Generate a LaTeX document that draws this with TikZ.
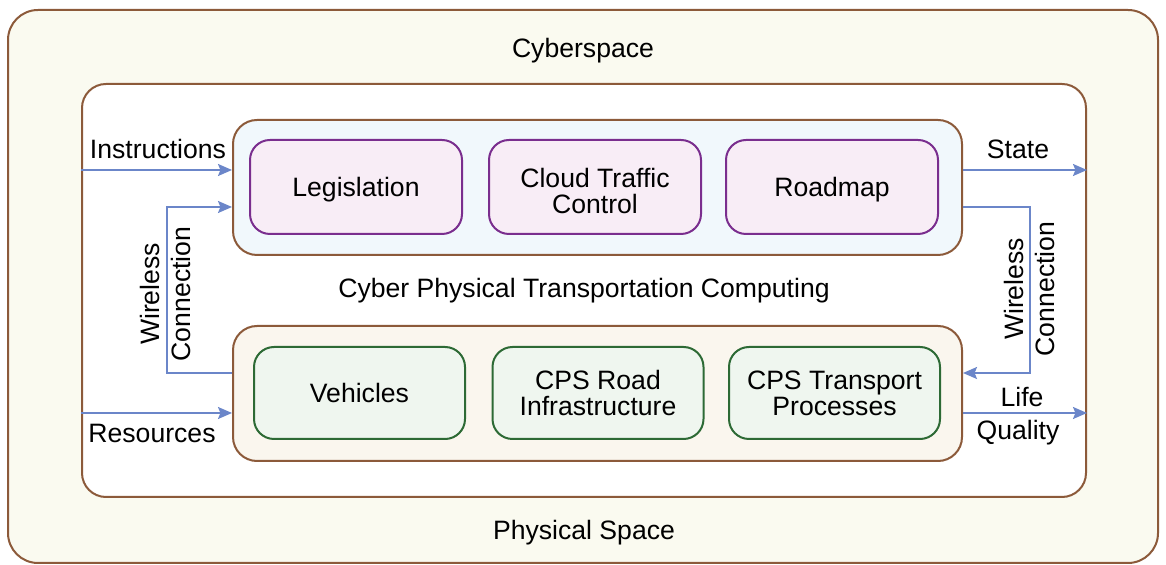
\documentclass[tikz,border=0pt]{standalone}
\usepackage{fontspec}
\setmainfont{Liberation Sans}
\usetikzlibrary{arrows.meta}
\definecolor{brownc}{HTML}{8C5A3A}
\definecolor{outerfill}{HTML}{FAFAF0}
\definecolor{topfill}{HTML}{F1F8FC}
\definecolor{botfill}{HTML}{FAF6EE}
\definecolor{purc}{HTML}{7A2E8E}
\definecolor{purfill}{HTML}{F8EDF6}
\definecolor{grc}{HTML}{2D6A35}
\definecolor{grfill}{HTML}{EFF6EF}
\definecolor{arrc}{HTML}{6B86C9}
\begin{document}
\begin{tikzpicture}[x=0.5pt,y=-0.5pt,
  every node/.style={font=\fontsize{13.3}{13}\selectfont, inner sep=0pt, text=black},
  tl/.style={text depth=0pt},
  rotlbl/.style={rotate=90, align=center, font=\fontsize{13.3}{15.5}\selectfont},
  frame/.style={draw=brownc, line width=1pt},
  purbox/.style={draw=purc, fill=purfill, line width=1pt, rounded corners=10pt, minimum width=106pt, minimum height=47pt, align=center},
  grbox/.style={draw=grc, fill=grfill, line width=1pt, rounded corners=10pt, minimum width=105.5pt, minimum height=46pt, align=center},
  arr/.style={draw=arrc, line width=0.85pt, -{Stealth[length=7pt,width=6pt,inset=1.2pt]}}
]
\useasboundingbox (0,0) rectangle (1166,565);
\node[frame, fill=outerfill, rounded corners=15pt, minimum width=575pt, minimum height=276.5pt] (outer) at (583,286.5) {};
\node[frame, fill=white, rounded corners=12pt, minimum width=502pt, minimum height=206.5pt] (inner) at (584,290.5) {};
\node[frame, fill=topfill, rounded corners=12pt, minimum width=364.5pt, minimum height=67.5pt] (top) at (597.5,187.5) {};
\node[frame, fill=botfill, rounded corners=12pt, minimum width=364.5pt, minimum height=67.5pt] (bot) at (597.5,393.5) {};

\node[purbox, tl] (leg) at (356,187) {Legislation};
\node[purbox] (ctc) at (595,187) {};
\node[align=center] (ctctext) at (595,190.5) {Cloud Traffic\\Control};
\node[purbox, tl] (road) at (832,187) {Roadmap};

\node[grbox, tl] (veh) at (359.5,393) {Vehicles};
\node[grbox] (infra) at (598,393) {CPS Road\\Infrastructure};
\node[grbox] (proc) at (834.5,393) {CPS Transport\\Processes};

\node[tl] (cyber) at (583,48) {Cyberspace};
\node[tl] (phys) at (584,530) {Physical Space};
\node[tl] (cptc) at (584,288) {Cyber Physical Transportation Computing};

\coordinate (y170) at (0,170);
\coordinate (y207) at (0,207);
\coordinate (y373) at (0,373);
\coordinate (y413) at (0,413);
\coordinate (wl) at (167,373);
\coordinate (wlt) at (167,207);
\coordinate (wr) at (1030,207);
\coordinate (wrb) at (1030,373);

\draw[arr] (inner.west |- y170) -- (top.west |- y170);
\draw[arr] (inner.west |- y413) -- (bot.west |- y413);
\draw[arr] (bot.west |- y373) -- (wl) -- (wlt) -- (top.west |- y207);
\draw[arr] (top.east |- y170) -- (inner.east |- y170);
\draw[arr] (top.east |- y207) -- (wr) -- (wrb) -- (bot.east |- y373);
\draw[arr] (bot.east |- y413) -- (inner.east |- y413);

\node[tl] (ins) at (158,149) {Instructions};
\node[tl] (res) at (152,433) {Resources};
\node[tl] (state) at (1018,149) {State};
\node[tl] (life) at (1022,397) {Life};
\node[tl] (qual) at (1018,430) {Quality};
\node[rotlbl] (wlab) at (165,294) {Wireless\\Connection};
\node[rotlbl] (wrab) at (1029,289) {Wireless\\Connection};
\end{tikzpicture}
\end{document}
